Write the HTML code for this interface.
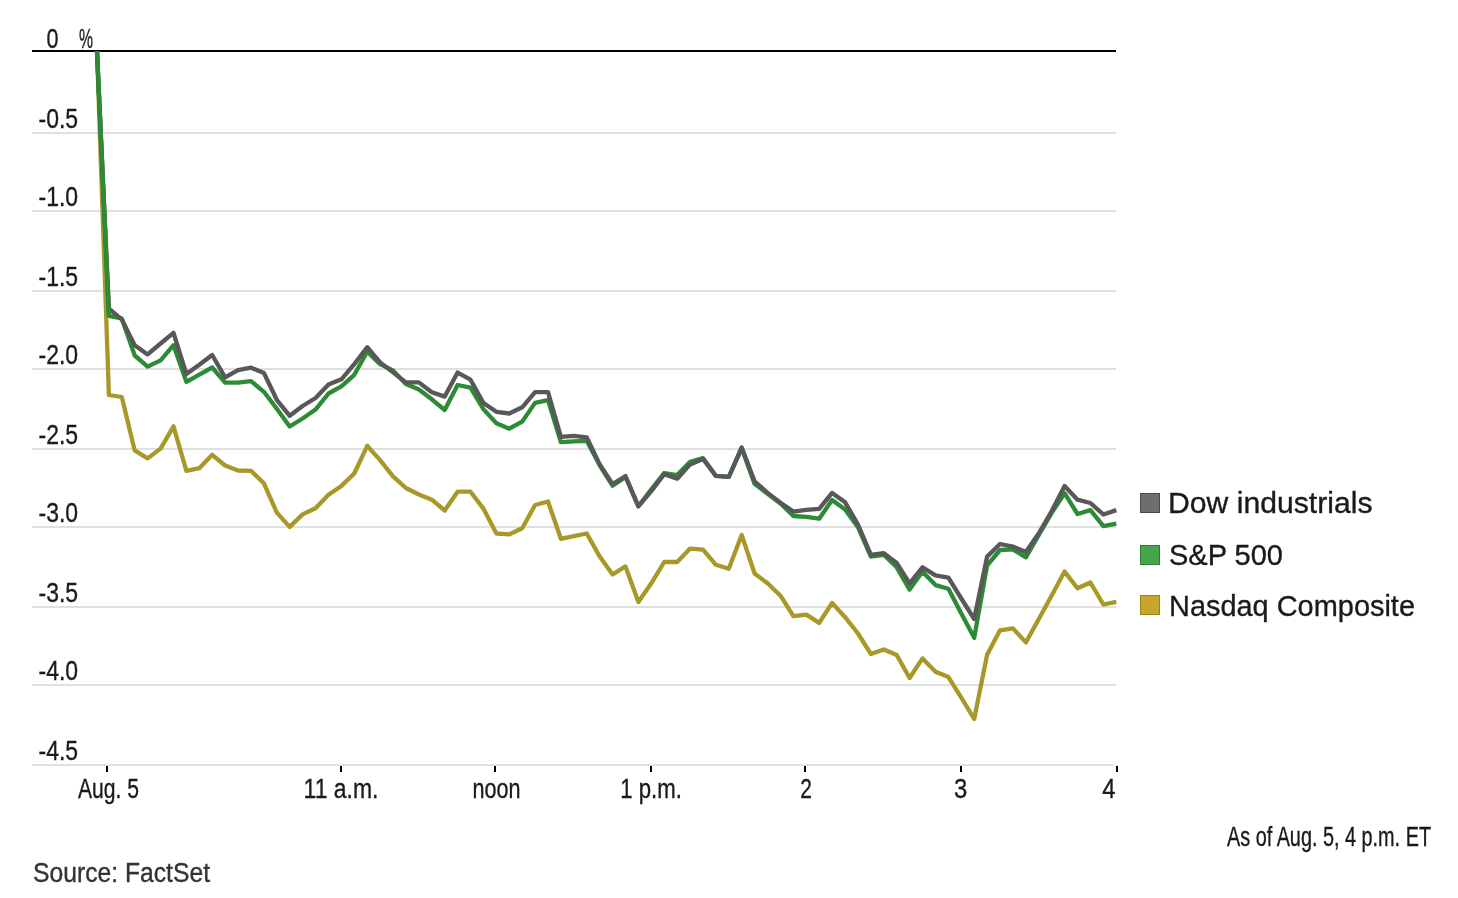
<!DOCTYPE html>
<html><head><meta charset="utf-8"><style>
html,body{margin:0;padding:0;background:#fff;}
body{width:1458px;height:898px;overflow:hidden;position:relative;}
svg{position:absolute;left:0;top:0;will-change:transform;}
text{font-family:"Liberation Sans",sans-serif;}
</style></head><body>
<svg width="1458" height="898" viewBox="0 0 1458 898">
<g stroke="#e0e0e0" stroke-width="2"><line x1="32" x2="1116" y1="133.0" y2="133.0"/><line x1="32" x2="1116" y1="211.0" y2="211.0"/><line x1="32" x2="1116" y1="291.0" y2="291.0"/><line x1="32" x2="1116" y1="369.0" y2="369.0"/><line x1="32" x2="1116" y1="449.0" y2="449.0"/><line x1="32" x2="1116" y1="527.0" y2="527.0"/><line x1="32" x2="1116" y1="607.0" y2="607.0"/><line x1="32" x2="1116" y1="685.0" y2="685.0"/><line x1="32" x2="1113" y1="765.0" y2="765.0"/></g>
<line x1="32" x2="1116" y1="51" y2="51" stroke="#000" stroke-width="2"/>
<g stroke="#000" stroke-width="2"><line x1="107.0" x2="107.0" y1="766" y2="772"/><line x1="341.0" x2="341.0" y1="766" y2="772"/><line x1="495.0" x2="495.0" y1="766" y2="772"/><line x1="651.0" x2="651.0" y1="766" y2="772"/><line x1="805.0" x2="805.0" y1="766" y2="772"/><line x1="961.0" x2="961.0" y1="766" y2="772"/><line x1="1117.0" x2="1117.0" y1="766" y2="772"/></g>
<g fill="none" stroke-width="4.3" stroke-linejoin="round" stroke-linecap="butt">
<path d="M97.0 51.0 L108.9 395.0 L121.8 397.0 L134.7 450.4 L147.6 458.4 L160.6 448.6 L173.5 426.3 L186.4 470.9 L199.3 468.2 L212.2 454.8 L225.1 465.5 L238.0 470.5 L251.0 470.8 L263.9 483.3 L276.8 512.6 L289.7 526.9 L302.6 514.4 L315.5 508.2 L328.5 494.8 L341.4 485.9 L354.3 473.5 L367.2 445.8 L380.1 460.1 L393.0 476.3 L405.9 488.0 L418.9 494.5 L431.8 499.7 L444.7 510.5 L457.6 491.7 L470.5 491.7 L483.4 508.6 L496.4 533.5 L509.3 534.4 L522.2 528.2 L535.1 505.0 L548.0 501.5 L560.9 538.8 L573.8 536.1 L586.8 533.5 L599.7 556.6 L612.6 574.5 L625.5 566.4 L638.4 602.0 L651.3 583.3 L664.2 562.0 L677.2 562.0 L690.1 548.6 L703.0 549.6 L715.9 564.8 L728.8 568.8 L741.7 534.9 L754.6 573.5 L767.6 583.3 L780.5 595.7 L793.4 616.1 L806.3 614.6 L819.2 622.9 L832.1 602.9 L845.1 617.2 L858.0 633.5 L870.9 654.0 L883.8 649.5 L896.7 655.0 L909.6 678.0 L922.5 658.4 L935.5 671.8 L948.4 677.1 L961.3 697.6 L974.2 719.0 L987.1 654.8 L1000.0 630.3 L1012.9 628.4 L1025.9 642.4 L1038.8 619.0 L1051.7 595.5 L1064.6 571.6 L1077.5 588.3 L1090.4 582.5 L1103.4 604.5 L1116.3 601.8" stroke="#a79828"/>
<path d="M97.0 51.0 L108.9 315.8 L121.8 318.5 L134.7 355.5 L147.6 366.6 L160.6 360.4 L173.5 345.2 L186.4 381.8 L199.3 374.6 L212.2 367.5 L225.1 382.6 L238.0 382.6 L251.0 381.1 L263.9 391.8 L276.8 408.7 L289.7 426.5 L302.6 418.5 L315.5 409.6 L328.5 393.5 L341.4 386.4 L354.3 374.8 L367.2 351.7 L380.1 364.1 L393.0 370.5 L405.9 384.1 L418.9 389.5 L431.8 399.3 L444.7 410.0 L457.6 385.0 L470.5 387.7 L483.4 409.1 L496.4 423.3 L509.3 428.7 L522.2 421.6 L535.1 402.9 L548.0 400.2 L560.9 442.2 L573.8 441.3 L586.8 440.9 L599.7 465.3 L612.6 485.8 L625.5 476.9 L638.4 506.3 L651.3 489.4 L664.2 473.0 L677.2 475.1 L690.1 461.8 L703.0 458.1 L715.9 475.9 L728.8 476.8 L741.7 448.3 L754.6 483.9 L767.6 493.7 L780.5 503.5 L793.4 516.0 L806.3 516.9 L819.2 518.7 L832.1 500.0 L845.1 509.4 L858.0 527.2 L870.9 556.6 L883.8 554.8 L896.7 567.3 L909.6 589.6 L922.5 571.8 L935.5 585.1 L948.4 588.7 L961.3 613.6 L974.2 637.8 L987.1 565.5 L1000.0 550.0 L1012.9 549.3 L1025.9 557.3 L1038.8 535.0 L1051.7 512.8 L1064.6 493.2 L1077.5 514.0 L1090.4 510.1 L1103.4 526.1 L1116.3 523.7" stroke="#2d8a35"/>
<path d="M97.0 51.0 L108.9 308.7 L121.8 319.4 L134.7 345.2 L147.6 354.4 L160.6 343.5 L173.5 332.8 L186.4 374.0 L199.3 364.8 L212.2 355.0 L225.1 377.3 L238.0 370.2 L251.0 367.7 L263.9 373.0 L276.8 399.8 L289.7 415.8 L302.6 406.0 L315.5 398.0 L328.5 384.6 L341.4 379.3 L354.3 364.1 L367.2 347.2 L380.1 362.4 L393.0 372.4 L405.9 382.4 L418.9 382.4 L431.8 392.2 L444.7 396.6 L457.6 372.6 L470.5 379.7 L483.4 402.9 L496.4 411.8 L509.3 413.5 L522.2 407.3 L535.1 392.2 L548.0 392.2 L560.9 436.8 L573.8 435.9 L586.8 437.3 L599.7 464.4 L612.6 484.0 L625.5 476.0 L638.4 506.3 L651.3 491.2 L664.2 474.2 L677.2 478.7 L690.1 464.4 L703.0 459.0 L715.9 475.9 L728.8 476.8 L741.7 447.4 L754.6 481.3 L767.6 492.9 L780.5 502.7 L793.4 511.6 L806.3 509.8 L819.2 508.9 L832.1 492.9 L845.1 502.3 L858.0 524.5 L870.9 554.8 L883.8 553.1 L896.7 562.9 L909.6 583.3 L922.5 567.3 L935.5 575.3 L948.4 577.6 L961.3 598.5 L974.2 619.0 L987.1 556.6 L1000.0 544.0 L1012.9 546.6 L1025.9 552.0 L1038.8 533.3 L1051.7 511.0 L1064.6 486.0 L1077.5 499.7 L1090.4 503.0 L1103.4 514.5 L1116.3 510.1" stroke="#585858"/>
<path d="M97 51 L108.9 315.8" stroke="#2d8a35"/>
</g>
<g fill="#1a1a1a" stroke="#1a1a1a" stroke-width="0.35" font-size="27">
<text x="46.6" y="47.8" textLength="12" lengthAdjust="spacingAndGlyphs">0</text><text x="79" y="47.8" textLength="14" lengthAdjust="spacingAndGlyphs">%</text><text x="38.5" y="127.8" textLength="39.6" lengthAdjust="spacingAndGlyphs">-0.5</text><text x="38.5" y="205.8" textLength="39.6" lengthAdjust="spacingAndGlyphs">-1.0</text><text x="38.5" y="285.8" textLength="39.6" lengthAdjust="spacingAndGlyphs">-1.5</text><text x="38.5" y="363.8" textLength="39.6" lengthAdjust="spacingAndGlyphs">-2.0</text><text x="38.5" y="443.8" textLength="39.6" lengthAdjust="spacingAndGlyphs">-2.5</text><text x="38.5" y="521.8" textLength="39.6" lengthAdjust="spacingAndGlyphs">-3.0</text><text x="38.5" y="601.8" textLength="39.6" lengthAdjust="spacingAndGlyphs">-3.5</text><text x="38.5" y="679.8" textLength="39.6" lengthAdjust="spacingAndGlyphs">-4.0</text><text x="38.5" y="759.8" textLength="39.6" lengthAdjust="spacingAndGlyphs">-4.5</text>
</g>
<g fill="#1a1a1a" stroke="#1a1a1a" stroke-width="0.35" font-size="27">
<text x="78.0" y="798" textLength="61.0" lengthAdjust="spacingAndGlyphs">Aug. 5</text><text x="303.6" y="798" textLength="74.8" lengthAdjust="spacingAndGlyphs">11 a.m.</text><text x="472.5" y="798" textLength="48.0" lengthAdjust="spacingAndGlyphs">noon</text><text x="620.2" y="798" textLength="61.6" lengthAdjust="spacingAndGlyphs">1 p.m.</text><text x="800.2" y="798" textLength="11.7" lengthAdjust="spacingAndGlyphs">2</text><text x="954.1" y="798" textLength="13.3" lengthAdjust="spacingAndGlyphs">3</text><text x="1102.3" y="798" textLength="13.3" lengthAdjust="spacingAndGlyphs">4</text>
</g>
<rect x="1140.5" y="493.5" width="19" height="19" fill="#6e6e6e" stroke="#4a4a4a" stroke-width="1"/>
<rect x="1140.5" y="545.5" width="19" height="19" fill="#46a546" stroke="#2e7d32" stroke-width="1"/>
<rect x="1140.5" y="595.5" width="19" height="19" fill="#c8a62a" stroke="#9c8420" stroke-width="1"/>
<g fill="#1a1a1a" stroke="#1a1a1a" stroke-width="0.35" font-size="30">
<text x="1168" y="513" textLength="204.5" lengthAdjust="spacingAndGlyphs">Dow industrials</text>
<text x="1169" y="565" textLength="114" lengthAdjust="spacingAndGlyphs">S&amp;P 500</text>
<text x="1169" y="615.5" textLength="246" lengthAdjust="spacingAndGlyphs">Nasdaq Composite</text>
</g>
<text x="1227" y="846" font-size="27" fill="#1a1a1a" stroke="#1a1a1a" stroke-width="0.35" textLength="204" lengthAdjust="spacingAndGlyphs">As of Aug. 5, 4 p.m. ET</text>
<text x="33" y="882" font-size="27" fill="#333" stroke="#333" stroke-width="0.35" textLength="177" lengthAdjust="spacingAndGlyphs">Source: FactSet</text>
</svg>
</body></html>
